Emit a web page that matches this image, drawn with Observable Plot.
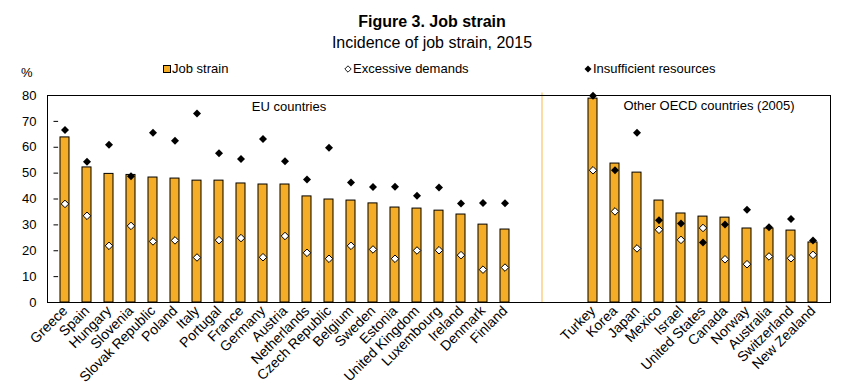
<!DOCTYPE html>
<html><head><meta charset="utf-8">
<script src="https://cdn.jsdelivr.net/npm/d3@7"></script>
<script src="https://cdn.jsdelivr.net/npm/@observablehq/plot@0.6"></script>
<style>
body{margin:0;background:#fff;font-family:"Liberation Sans",Arial,sans-serif;color:#000}
#wrap{position:relative;width:864px;height:387px;overflow:hidden}
.t{position:absolute;white-space:nowrap}
#title{left:0;width:864px;text-align:center;top:13px;font-size:16px;font-weight:bold;line-height:18px}
#subtitle{left:0;width:864px;text-align:center;top:34px;font-size:16px;line-height:18px}
#pct{left:21px;top:65px;font-size:13px;line-height:16px}
.leg{top:61px;font-size:13px;line-height:16px;display:flex;align-items:center}
.leg svg{margin-right:1px}
#chart{position:absolute;left:0;top:80px}
</style></head><body><div id="wrap">
<div class="t" id="title">Figure 3. Job strain</div>
<div class="t" id="subtitle">Incidence of job strain, 2015</div>
<div class="t" id="pct">%</div>
<div class="t leg" style="left:163px"><svg width="8" height="8"><rect x="0.5" y="0.5" width="7" height="7" fill="#F5AC26" stroke="#000"/></svg>Job strain</div>
<div class="t leg" style="left:344px"><svg width="8" height="8"><path d="M4,0.8L7.2,4L4,7.2L0.8,4Z" fill="#fff" stroke="#000" stroke-width="0.9"/></svg>Excessive demands</div>
<div class="t leg" style="left:584px"><svg width="8" height="8"><path d="M4,0.5L7.5,4L4,7.5L0.5,4Z" fill="#000"/></svg>Insufficient resources</div>
<div id="chart"></div>
</div>
<script>
const euCountries = ["Greece","Spain","Hungary","Slovenia","Slovak Republic","Poland","Italy","Portugal","France","Germany","Austria","Netherlands","Czech Republic","Belgium","Sweden","Estonia","United Kingdom","Luxembourg","Ireland","Denmark","Finland"];
const otherCountries = ["Turkey","Korea","Japan","Mexico","Israel","United States","Canada","Norway","Australia","Switzerland","New Zealand"];
const gapSlots = ["gap1","gap2","gap3"];
const jobStrain = [63.8,52.2,49.7,49.3,48.3,47.9,47.1,47.1,46.0,45.6,45.6,41.0,39.8,39.4,38.3,36.7,36.3,35.5,34.0,30.1,28.2,
                   78.8,53.7,50.2,39.4,34.4,33.2,32.8,28.6,28.6,27.8,23.2];
const excessiveDemands = [38.1,33.5,21.9,29.6,23.6,24.0,17.4,24.1,24.9,17.5,25.7,19.2,16.9,21.9,20.5,16.9,20.1,20.2,18.3,12.7,13.5,
                          51.1,35.2,20.9,28.1,24.2,28.8,16.7,14.8,17.8,17.1,18.4];
const insufficientResources = [66.7,54.4,61.0,48.8,65.6,62.5,73.0,57.7,55.5,63.2,54.6,47.5,59.8,46.4,44.6,44.7,41.3,44.4,38.3,38.5,38.4,
                               79.9,51.1,65.6,31.8,30.5,23.2,30.1,35.8,29.1,32.3,24.0];
const yTicks = [0,10,20,30,40,50,60,70,80];
const yInnerTicks = [10,20,30,40,50,60,70];
const groupLabels = ["EU countries","Other OECD countries (2005)"];

const countries = euCountries.concat(otherCountries);
const data = countries.map((c,i)=>({country:c, strain:jobStrain[i], excessive:excessiveDemands[i], insufficient:insufficientResources[i]}));
const xDomain = euCountries.concat(gapSlots, otherCountries);

const chart = Plot.plot({
  width: 864, height: 307,
  marginLeft: 47, marginRight: 34, marginTop: 15, marginBottom: 85,
  style: {fontFamily: '"Liberation Sans", Arial, sans-serif', fontSize: "13px", color: "#000", background: "#fff"},
  x: {type: "band", domain: xDomain, paddingInner: 0.58, paddingOuter: 0.29, axis: null},
  y: {domain: [0, 80], axis: null},
  marks: [
    Plot.ruleX([gapSlots[1]], {y1: 0, y2: 81, stroke: "#fbd48c", strokeWidth: 1.6, dx: -7}),
    Plot.barY(data, {x: "country", y: "strain", fill: "#F5AC26", stroke: "#000", strokeWidth: 1}),
    Plot.frame({stroke: "#000", strokeWidth: 1}),
    Plot.tickY(yInnerTicks, {y: d => d, x: () => euCountries[0], dx: -6.5, insetRight: 4.4, stroke: "#000", strokeWidth: 1}),
    Plot.dot(data, {x: "country", y: "insufficient", symbol: "diamond2", r: 3.6, fill: "#000", stroke: "none"}),
    Plot.dot(data, {x: "country", y: "excessive", symbol: "diamond2", r: 3.4, fill: "#fff", stroke: "#000", strokeWidth: 1}),
    Plot.axisY({ticks: yTicks, tickSize: 0, tickPadding: 11, fontSize: 13, label: null}),
    Plot.axisX({ticks: countries, tickRotate: -45, tickSize: 0, tickPadding: 6, fontSize: 14, label: null}),
    Plot.text([groupLabels[0]], {x: () => "Austria", y: () => 75.5, text: d => d, fontSize: 13, dx: 4}),
    Plot.text([groupLabels[1]], {x: () => "United States", y: () => 76, text: d => d, fontSize: 13, dx: 6})
  ]
});
document.getElementById("chart").appendChild(chart);
</script>
</body></html>
